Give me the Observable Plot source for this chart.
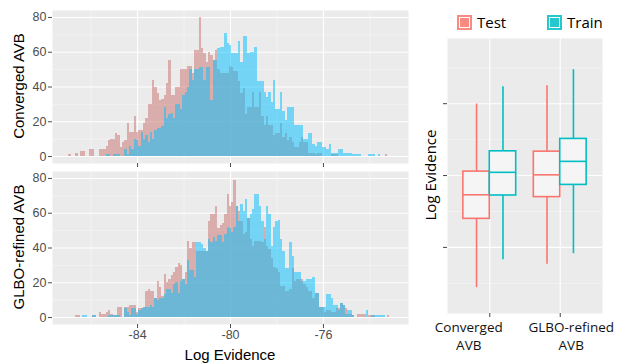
<!DOCTYPE html>
<html><head><meta charset="utf-8">
<script src="https://cdn.jsdelivr.net/npm/d3@7"></script>
<script src="https://cdn.jsdelivr.net/npm/@observablehq/plot@0.6"></script>
<style>
body{margin:0;background:#fff;}
#root{position:relative;width:618px;height:364px;overflow:hidden;font-family:"Liberation Sans",Arial,sans-serif;}
.abs{position:absolute;white-space:nowrap;}
.vt{transform:translate(-50%,-50%) rotate(-90deg);}
</style></head><body><div id="root"></div>
<script>
// ---- data ----
const BIN_START = -86.95, BIN_WIDTH = 0.1;
const convergedTest = [1,0,0,2,0,3,3,0,0,4, 4,0,0,4,4,4,6,9,10,10, 13,12,5,8,9,19,14,14,23,14, 15,15,19,22,30,30,44,40,36,32,
 33,35,42,55,35,35,40,40,50,50, 50,52,52,48,61,61,80,62,59,54, 60,58,55,61,50,48,48,48,48,52, 51,49,49,43,36,39,24,28,28,37,
 28,28,37,23,18,23,18,18,12,13, 13,19,11,13,9,11,8,5,5,8, 11,8,8,2,2,2,1,2,2,0, 0,0,0,1,1,1,0,0,0,0, 0,0,0,0,0,0,0,0,0,0, 0,0,0,0,0,0,1];
const convergedTrain = [0,0,0,0,0,0,0,0,0,0, 0,0,0,0,0,0,1,1,0,1, 1,1,0,0,4,1,6,4,10,9, 6,14,10,12,8,14,10,15,16,16,
 17,28,22,24,25,22,30,30,27,35, 37,40,50,44,50,50,51,51,44,51, 51,32,55,55,62,63,63,71,65,64, 59,59,59,66,54,69,69,59,60,60,
 63,43,43,43,37,34,37,31,44,27, 27,37,26,21,28,28,28,18,18,18, 18,10,10,13,13,7,6,8,8,5, 5,4,7,2,2,2,4,4,2,2, 2,2,1,1,1,1,0,0,0,1, 1,1,0,1];
const glboTest = [0,0,0,1,1,0,0,0,0,0, 1,1,0,3,2,2,3,4,2,1, 1,6,6,0,6,6,7,7,7,3, 5,5,6,15,16,15,15,11,21,17,
 12,25,20,22,24,26,29,31,30,22, 26,44,40,43,43,38,38,38,38,38, 55,59,59,64,51,53,54,59,71,64, 66,79,64,61,55,48,49,57,45,41,
 44,44,44,43,52,41,39,34,29,28, 26,18,18,15,15,16,28,21,22,22, 22,19,17,15,15,11,14,14,6,6, 3,4,4,3,3,5,5,8,7,5, 2,2,1,0,2,2,2,2,0,1, 1,1,0,0,0,0,0,1];
const glboTrain = [0,0,0,0,0,0,1,1,0,0, 1,1,0,0,0,0,0,1,1,1, 1,1,0,0,5,3,1,5,5,2, 4,5,6,6,6,7,6,11,10,11,
 11,13,16,16,14,19,20,14,21,22, 19,33,27,27,23,43,43,42,40,38, 45,43,46,44,47,47,43,48,52,51, 49,52,64,55,65,61,68,57,59,62,
 71,71,64,55,45,64,59,41,52,55, 56,45,38,28,28,43,35,26,26,26, 21,21,22,22,22,23,14,14,6,6, 6,13,13,11,7,7,4,8,7,2, 4,4,1,0,0,0,0,0,4,0, 1,1,1,1,1,1];

const seriesNames = ["Test", "Train"];
const methodNames = ["Converged AVB", "GLBO-refined AVB"];
const methodTickLabels = ["Converged\nAVB", "GLBO-refined\nAVB"];
const countTicks = [0, 20, 40, 60, 80];
const evidenceTicks = [-84, -80, -76];

// boxplot summary (per method x series)
const boxMethod = [1, 1, 2, 2];
const boxSeries = ["Test", "Train", "Test", "Train"];
const whiskerLow = [-86.24, -84.69, -84.94, -84.35];
const q1 = [-82.41, -81.11, -81.20, -80.52];
const median = [-81.07, -79.82, -79.96, -79.21];
const q3 = [-79.78, -78.65, -78.67, -77.96];
const whiskerHigh = [-76.02, -75.06, -75.00, -74.11];

// ---- styling ----
const histFill = {Test: "#CB7171", Train: "#00BFFF"};
const boxColor = {Test: "#F8766D", Train: "#00BFC4"};
const XDOM = [-87.66, -72.34];
const root = document.getElementById("root");

function bins(counts, series) {
  return counts.map((c, i) => ({x1: BIN_START + i * BIN_WIDTH, x2: BIN_START + (i + 1) * BIN_WIDTH, count: c, series}))
    .filter(d => d.count > 0);
}

function histPlot(test, train, showLabels) {
  const mb = showLabels ? 24 : 6;
  const p = Plot.plot({
    width: 410, height: 153 + mb,
    marginLeft: 52, marginRight: 2, marginTop: 0, marginBottom: mb,
    style: {fontFamily: "Liberation Sans, Arial, sans-serif", fontSize: "12.5px", color: "#4D4D4D", background: "transparent", overflow: "visible"},
    x: {domain: XDOM, label: null},
    y: {domain: [-4, 84], label: null},
    marks: [
      Plot.frame({fill: "#EBEBEB", stroke: null}),
      Plot.gridX([-86, -82, -78, -74], {stroke: "#F7F7F7", strokeOpacity: 1, strokeWidth: 0.6}),
      Plot.gridY([10, 30, 50, 70], {stroke: "#F7F7F7", strokeOpacity: 1, strokeWidth: 0.6}),
      Plot.gridX(evidenceTicks, {stroke: "#fff", strokeOpacity: 1, strokeWidth: 1.1}),
      Plot.gridY(countTicks, {stroke: "#fff", strokeOpacity: 1, strokeWidth: 1.1}),
      Plot.rect(bins(test, "Test"), {x1: "x1", x2: "x2", y1: 0, y2: "count", fill: histFill.Test, inset: 0, shapeRendering: "crispEdges"}),
      Plot.rect(bins(train, "Train"), {x1: "x1", x2: "x2", y1: 0, y2: "count", fill: histFill.Train, inset: 0, shapeRendering: "crispEdges"}),
      Plot.axisY({ticks: countTicks, tickSize: 4, tickPadding: 2, label: null}),
      Plot.axisX({ticks: evidenceTicks, tickSize: 4, tickPadding: 2, label: null,
        tickFormat: showLabels ? (d => "-" + Math.abs(d)) : (() => "")})
    ]
  });
  p.querySelectorAll('g[aria-label="rect"]').forEach(g => g.setAttribute("opacity", "0.5"));
  return p;
}

function place(el, left, top) {
  el.style.position = "absolute"; el.style.left = left + "px"; el.style.top = top + "px";
  root.appendChild(el);
}

place(histPlot(convergedTest, convergedTrain, false), 0, 10);
place(histPlot(glboTest, glboTrain, true), 0, 171);

function label(text, cx, cy, css, vertical) {
  const d = document.createElement("div");
  d.className = "abs" + (vertical ? " vt" : "");
  d.textContent = text;
  d.style.left = cx + "px"; d.style.top = cy + "px";
  if (!vertical) d.style.transform = "translate(-50%,-50%)";
  Object.assign(d.style, css);
  root.appendChild(d);
}
const leftTitle = {fontSize: "15px", color: "#000", fontFamily: "Liberation Sans, Arial, sans-serif"};
label(methodNames[0], 18, 86, leftTitle, true);
label(methodNames[1], 18, 247, leftTitle, true);
label("Log Evidence", 230, 354, leftTitle, false);

// ---- boxplot panel ----
const HALF = 0.375;
const boxes = boxMethod.map((m, i) => ({
  m, series: boxSeries[i],
  x1: boxSeries[i] === "Test" ? m - HALF : m,
  x2: boxSeries[i] === "Test" ? m : m + HALF,
  xc: boxSeries[i] === "Test" ? m - HALF / 2 : m + HALF / 2,
  lo: whiskerLow[i], q1: q1[i], med: median[i], q3: q3[i], hi: whiskerHigh[i]
}));
const colorOf = d => boxColor[d.series];
const labelShift = [-21, 11];
const bp = Plot.plot({
  width: 208, height: 333,
  marginLeft: 37, marginRight: 16, marginTop: 8, marginBottom: 50,
  style: {fontFamily: "Open Sans, sans-serif", fontSize: "13.5px", color: "#222", background: "transparent", overflow: "visible"},
  x: {domain: [0.4, 2.6], label: null},
  y: {domain: [-87.68, -72.37], label: null},
  marks: [
    Plot.frame({fill: "#EBEBEB", stroke: null}),
    Plot.gridY([-86, -82, -78, -74], {stroke: "#F7F7F7", strokeOpacity: 1, strokeWidth: 0.6}),
    Plot.gridY(evidenceTicks, {stroke: "#fff", strokeOpacity: 1, strokeWidth: 1.1}),
    Plot.gridX([1, 2], {stroke: "#fff", strokeOpacity: 1, strokeWidth: 1.1}),
    Plot.ruleX(boxes, {x: "xc", y1: "lo", y2: "q1", stroke: colorOf, strokeWidth: 1.6}),
    Plot.ruleX(boxes, {x: "xc", y1: "q3", y2: "hi", stroke: colorOf, strokeWidth: 1.6}),
    Plot.rect(boxes, {x1: "x1", x2: "x2", y1: "q1", y2: "q3", fill: "#F5F5F5", stroke: colorOf, strokeWidth: 1.6}),
    Plot.ruleY(boxes, {x1: "x1", x2: "x2", y: "med", stroke: colorOf, strokeWidth: 1.6}),
    Plot.axisY({ticks: evidenceTicks, tickSize: 4, tickFormat: () => "", label: null, stroke: "#444"}),
    Plot.axisX({ticks: [1, 2], tickSize: 4, tickFormat: () => "", label: null, stroke: "#444"}),
    ...methodTickLabels.map((t, i) => Plot.text([t], {x: () => i + 1, frameAnchor: "bottom", lineAnchor: "top",
      dy: 6, dx: labelShift[i], lineHeight: 1.32, fill: "#111", fontSize: 13.5}))
  ]
});
place(bp, 410, 30);
label("Log Evidence", 430, 175, {fontSize: "15px", color: "#000", fontFamily: "Open Sans, sans-serif"}, true);

// legend
seriesNames.forEach((s, i) => {
  const x = [457, 547][i];
  const key = document.createElement("div");
  Object.assign(key.style, {position: "absolute", left: x + "px", top: "15px", width: "15px", height: "15px",
    boxSizing: "border-box", background: boxColor[s], opacity: "0.85"});
  const inner = document.createElement("div");
  Object.assign(inner.style, {position: "absolute", left: "2px", top: "2px", width: "11px", height: "11px",
    boxSizing: "border-box", border: "1px solid #fff"});
  key.appendChild(inner);
  root.appendChild(key);
  const t = document.createElement("div");
  t.className = "abs";
  t.textContent = s;
  Object.assign(t.style, {left: (x + 20) + "px", top: "12px", fontSize: "15px", fontFamily: "Open Sans, sans-serif", color: "#000"});
  root.appendChild(t);
});
</script></body></html>
